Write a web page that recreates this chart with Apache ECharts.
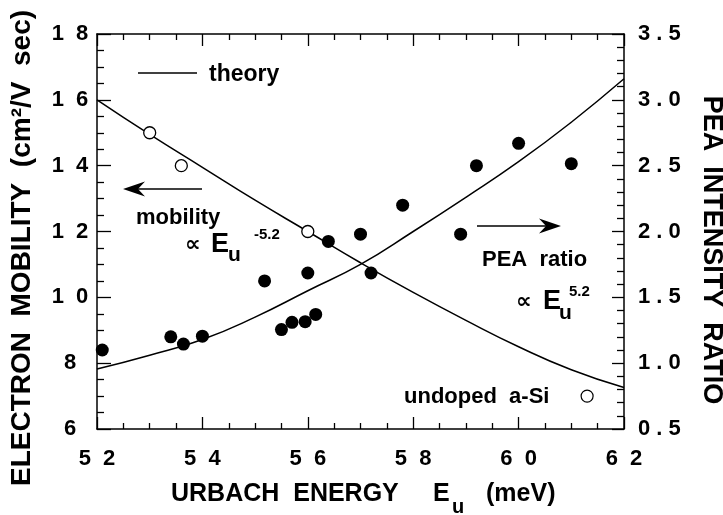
<!DOCTYPE html>
<html>
<head>
<meta charset="utf-8">
<script src="https://cdn.jsdelivr.net/npm/echarts@6/dist/echarts.min.js"></script>
<style>
html,body{margin:0;padding:0;background:#fff;}
#chart{width:723px;height:515px;}
</style>
</head>
<body>
<div id="chart"></div>
<script>
// ---- data ----
const theoryEnergy   = [52, 53, 54, 55, 56, 57, 58, 59, 60, 61, 62];
const mobilityTheory = [16.0, 14.95, 13.95, 12.95, 12.0, 11.05, 10.15, 9.3, 8.5, 7.8, 7.26];
const peaTheory      = [0.955, 1.06, 1.18, 1.35, 1.55, 1.75, 2.0, 2.26, 2.53, 2.83, 3.16];

const mobilityEnergy = [53.0, 53.6, 56.0];
const mobilityValue  = [15.0, 14.0, 12.0];

const undopedEnergy  = [61.3];
const undopedValue   = [7.0];

const peaEnergy = [52.1, 53.4, 53.64, 54.0, 55.18, 55.5, 55.7, 55.95, 56.0, 56.15, 56.39, 57.0, 57.2, 57.8, 58.9, 59.2, 60.0, 61.0];
const peaValue  = [1.10, 1.20, 1.145, 1.205, 1.625, 1.255, 1.31, 1.315, 1.685, 1.37, 1.925, 1.98, 1.685, 2.2, 1.98, 2.5, 2.67, 2.515];

const xRange     = [52, 62, 2];     // min, max, interval
const leftRange  = [6, 18, 2];
const rightRange = [0.5, 3.5, 0.5];

// ---- helpers ----
const zip = (a, b) => a.map((v, i) => [v, b[i]]);
const FONT = '"Liberation Sans", Arial, Helvetica, sans-serif';
const spaced = (s, sep) => String(s).split('').join(sep);
const chart = echarts.init(document.getElementById('chart'), null, {renderer: 'canvas'});

function mkAxis(pos, range, minorSplit, majLen, minLen, label) {
  return {
    type: 'value', min: range[0], max: range[1], interval: range[2], position: pos,
    axisLine: {show: true, onZero: false, lineStyle: {color: '#000', width: 1.5}},
    axisTick: {show: true, inside: true, length: majLen, lineStyle: {color: '#000', width: 1.3}},
    minorTick: {show: true, splitNumber: minorSplit, length: minLen, lineStyle: {color: '#000', width: 1.3}},
    axisLabel: label,
    splitLine: {show: false}, minorSplitLine: {show: false}
  };
}
const lf = {color: '#000', fontFamily: FONT, fontWeight: 'bold', fontSize: 22};

function txt(x, y, text, size, opts) {
  opts = opts || {};
  return {
    type: 'text', x: x, y: y, rotation: opts.rotation || 0, z: 100,
    style: {
      text: text, fill: '#000', fontFamily: opts.family || FONT, fontWeight: 'bold', fontSize: size,
      align: opts.align || 'left', verticalAlign: 'middle',
      textAlign: opts.align || 'left', textVerticalAlign: 'middle'
    }
  };
}
function arrow(xTail, xTip, y, headLen, notch, halfH) {
  const dir = xTip > xTail ? 1 : -1;
  return [
    {type: 'line', z: 100, shape: {x1: xTail, y1: y, x2: xTip - dir * notch, y2: y}, style: {stroke: '#000', lineWidth: 1.3}},
    {type: 'polygon', z: 100, shape: {points: [[xTip, y], [xTip - dir * headLen, y - halfH], [xTip - dir * notch, y], [xTip - dir * headLen, y + halfH]]}, style: {fill: '#000'}}
  ];
}

const option = {
  backgroundColor: '#fff',
  animation: false,
  grid: {left: 97, right: 99, top: 34, bottom: 86, containLabel: false},
  xAxis: [
    mkAxis('bottom', xRange, 4, 12, 6, Object.assign({show: true, margin: 19, formatter: v => spaced(v, '  ')}, lf)),
    mkAxis('top', xRange, 4, 12, 6, {show: false})
  ],
  yAxis: [
    mkAxis('left', leftRange, 4, 14, 7, Object.assign({show: true, margin: 27, align: 'center', formatter: v => spaced(v, '  ')}, lf)),
    mkAxis('right', rightRange, 5, 12, 7, Object.assign({show: true, margin: 14, align: 'left', formatter: v => spaced(v.toFixed(1), ' ')}, lf))
  ],
  series: [
    {name: 'mobility theory', type: 'line', xAxisIndex: 0, yAxisIndex: 0, smooth: true, symbol: 'none',
     data: zip(theoryEnergy, mobilityTheory), lineStyle: {color: '#000', width: 1.5}, z: 2},
    {name: 'PEA theory', type: 'line', xAxisIndex: 0, yAxisIndex: 1, smooth: true, symbol: 'none',
     data: zip(theoryEnergy, peaTheory), lineStyle: {color: '#000', width: 1.5}, z: 2},
    {name: 'mobility', type: 'scatter', xAxisIndex: 0, yAxisIndex: 0, data: zip(mobilityEnergy, mobilityValue),
     symbol: 'circle', symbolSize: 12, itemStyle: {color: '#fff', borderColor: '#000', borderWidth: 1.3, opacity: 1}, z: 5},
    {name: 'undoped a-Si', type: 'scatter', xAxisIndex: 0, yAxisIndex: 0, data: zip(undopedEnergy, undopedValue),
     symbol: 'circle', symbolSize: 12, itemStyle: {color: '#fff', borderColor: '#000', borderWidth: 1.2, opacity: 1}, z: 5},
    {name: 'PEA ratio', type: 'scatter', xAxisIndex: 0, yAxisIndex: 1, data: zip(peaEnergy, peaValue),
     symbol: 'circle', symbolSize: 13, itemStyle: {color: '#000', opacity: 1}, z: 5}
  ],
  graphic: [
    // legend
    {type: 'line', z: 100, shape: {x1: 138, y1: 73, x2: 197, y2: 73}, style: {stroke: '#000', lineWidth: 1.5}},
    txt(209, 75, 'theory', 23),
    // left annotation
    ...arrow(202, 123, 189, 22, 15, 7.5),
    txt(136, 218, 'mobility', 22),
    txt(185, 245, '\u221D', 22, {family: '"DejaVu Sans", sans-serif'}),
    txt(211, 245, 'E', 27),
    txt(228, 255, 'u', 21),
    txt(254, 235, '-5.2', 15),
    // right annotation
    ...arrow(477, 561, 226, 22, 15, 7.5),
    txt(482, 260, 'PEA  ratio', 22),
    txt(516, 302, '\u221D', 22, {family: '"DejaVu Sans", sans-serif'}),
    txt(543, 302, 'E', 27),
    txt(559, 313, 'u', 21),
    txt(569, 292, '5.2', 15),
    // undoped
    txt(404, 397, 'undoped  a-Si', 22),
    // axis titles
    txt(171, 494, 'URBACH  ENERGY', 25),
    txt(433, 494, 'E', 25),
    txt(452, 507, 'u', 20),
    txt(486, 494, '(meV)', 25),
    txt(22, 248, 'ELECTRON  MOBILITY  (cm\u00B2/V  sec)', 28, {align: 'center', rotation: Math.PI / 2}),
    txt(711, 250, 'PEA  INTENSITY  RATIO', 27, {align: 'center', rotation: -Math.PI / 2})
  ]
};
chart.setOption(option);
</script>
</body>
</html>
